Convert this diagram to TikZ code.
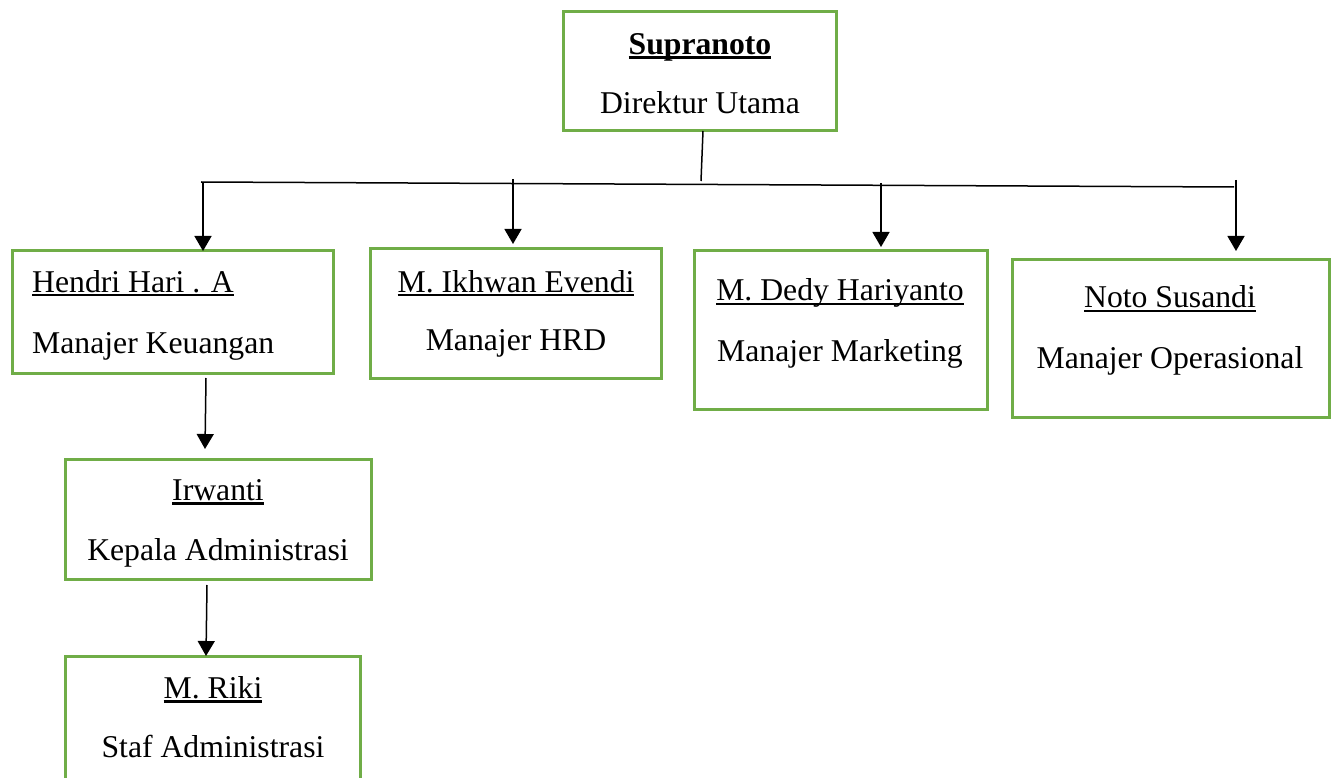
\documentclass[tikz,border=0pt]{standalone}
\usepackage{fontspec}
\setmainfont{Liberation Serif}
\usetikzlibrary{arrows.meta}
\definecolor{boxgreen}{RGB}{112,173,71}
\newcommand\myul[2][2.2pt]{\setbox0\hbox{#2}\rlap{\rule[-4.5pt]{\wd0}{#1}}\box0}
\tikzset{
  box/.style={draw=boxgreen, line width=3pt, rectangle, inner sep=0pt, fill=white},
  lbl/.style={anchor=base, inner sep=0pt, font=\fontsize{31.7}{38}\selectfont},
  lbll/.style={anchor=base west, inner sep=0pt, font=\fontsize{31.7}{38}\selectfont},
  conn/.style={line width=1.5pt, black},
  arr/.style={conn, -{Triangle[width=17pt,length=15pt]}}
}
\begin{document}
\begin{tikzpicture}[x=1pt,y=-1pt]
\useasboundingbox (0,0) rectangle (1334,778);
% boxes
\node[box, minimum width=273pt, minimum height=119pt] (sup) at (699.5,71.5) {};
\node[box, minimum width=321pt, minimum height=122pt] (hen) at (172.5,312) {};
\node[box, minimum width=291pt, minimum height=129pt] (ikh) at (515.5,313.5) {};
\node[box, minimum width=293pt, minimum height=158pt] (ded) at (840.5,330) {};
\node[box, minimum width=317pt, minimum height=157pt] (not) at (1170.5,338.5) {};
\node[box, minimum width=306pt, minimum height=120pt] (irw) at (218,519) {};
\node[box, minimum width=295pt, minimum height=150pt] (rik) at (212.5,731) {};
% texts
\node[lbl] (supn) at (700,55) {\myul[3.5pt]{\textbf{Supranoto}}};
\node[lbl] (supt) at (700,114) {Direktur Utama};
\node[lbll] (henn) at (32,292) {\myul{Hendri Hari . A}};
\node[lbll] (hent) at (32,353) {Manajer Keuangan};
\node[lbl] (ikhn) at (516,292) {\myul{M. Ikhwan Evendi}};
\node[lbl] (ikht) at (516,350) {Manajer HRD};
\node[lbl] (dedn) at (840,301) {\myul{M. Dedy Hariyanto}};
\node[lbl] (dedt) at (840,361) {Manajer Marketing};
\node[lbl] (notn) at (1170,308) {\myul{Noto Susandi}};
\node[lbl] (nott) at (1170,368) {Manajer Operasional};
\node[lbl] (irwn) at (218,500) {\myul{Irwanti}};
\node[lbl] (irwt) at (218,560) {Kepala Administrasi};
\node[lbl] (rikn) at (213,698) {\myul{M. Riki}};
\node[lbl] (rikt) at (213,757) {Staf Administrasi};
% connector coordinates
\coordinate (supb) at (703,131);
\coordinate (barm) at (701,181);
\coordinate (barl) at (201,182);
\coordinate (barr) at (1234,187);
\coordinate (a1s) at (203,182);  \coordinate (a1e) at (203,251);
\coordinate (a2s) at (513,179);  \coordinate (a2e) at (513,244);
\coordinate (a3s) at (881,183);  \coordinate (a3e) at (881,247);
\coordinate (a4s) at (1236,180); \coordinate (a4e) at (1236,251);
\coordinate (a5s) at (206,378);  \coordinate (a5e) at (205,449);
\coordinate (a6s) at (207,585);  \coordinate (a6e) at (206,656);
% connectors
\draw[conn] (supb) -- (barm);
\draw[conn] (barl) -- (barr);
\draw[arr] (a1s) -- (a1e);
\draw[arr] (a2s) -- (a2e);
\draw[arr] (a3s) -- (a3e);
\draw[arr] (a4s) -- (a4e);
\draw[arr] (a5s) -- (a5e);
\draw[arr] (a6s) -- (a6e);
\end{tikzpicture}
\end{document}
